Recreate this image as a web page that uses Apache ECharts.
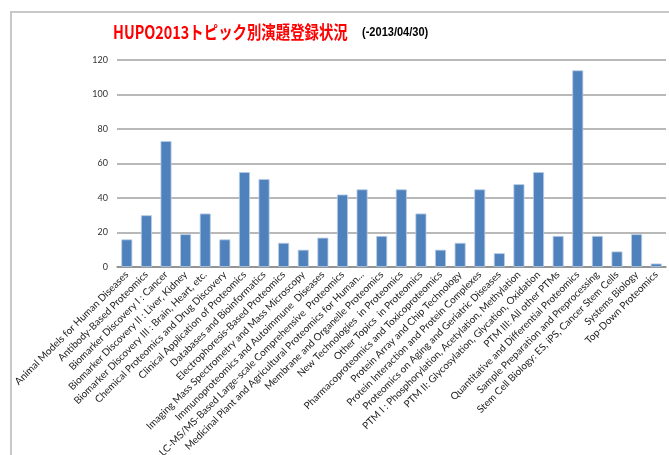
<!DOCTYPE html>
<html>
<head>
<meta charset="utf-8">
<script src="https://cdn.jsdelivr.net/npm/echarts@6/dist/echarts.min.js"></script>
<style>
  html, body { margin: 0; padding: 0; background: #fff; }
  #chart { width: 669px; height: 455px; }
</style>
</head>
<body>
<div id="chart"></div>
<script>
// カテゴリ（演題トピック）
var categories = [
  "Animal Models for Human Diseases",
  "Antibody-Based Proteomics",
  "Biomarker Discovery I : Cancer",
  "Biomarker Discovery II : Liver, Kidney",
  "Biomarker Discovery III : Brain, Heart, etc.",
  "Chemical Proteomics and Drug Discovery",
  "Clinical Application of Proteomics",
  "Databases and Bioinformatics",
  "Electrophoresis-Based Proteomics",
  "Imaging Mass Spectrometry and Mass Microscopy",
  "Immunoproteomics and Autoimmune  Diseases",
  "LC-MS/MS-Based Large-scale Comprehensive  Proteomics",
  "Medicinal Plant and Agricultural Proteomics for Human...",
  "Membrane and Organelle Proteomics",
  "New Technologies  in Proteomics",
  "Other Topics  in Proteomics",
  "Pharmacoproteomics and Toxicoproteomics",
  "Protein Array and Chip Technology",
  "Protein Interaction and Protein Complexes",
  "Proteomics on Aging and Geriatric Diseases",
  "PTM I : Phosphorylation, Acetylation, Methylation",
  "PTM II: Glycosylation, Glycation, Oxidation",
  "PTM III: All other PTMs",
  "Quantitative and Differential Proteomics",
  "Sample Preparation and Preprocessing",
  "Stem Cell Biology: ES, iPS, Cancer Stem Cells",
  "Systems Biology",
  "Top-Down Proteomics"
];
// 登録数
var counts = [16, 30, 73, 19, 31, 16, 55, 51, 14, 10, 17, 42, 45, 18, 45, 31, 10, 14, 45, 8, 48, 55, 18, 114, 18, 9, 19, 2];
// 縦軸
var yMin = 0, yMax = 120, yStep = 20;

var titleText = "HUPO2013トピック別演題登録状況";
var subText = "(-2013/04/30)";

var myChart = echarts.init(document.getElementById("chart"), null, { renderer: "canvas" });
var option = {
  backgroundColor: "#fff",
  animation: false,
  textStyle: { fontFamily: "Lato, 'Liberation Sans', sans-serif" },
  graphic: [
    {
      type: "rect",
      shape: { x: 11, y: 12, width: 700, height: 460 },
      style: { fill: null, stroke: "#c8c8c8", lineWidth: 2 },
      silent: true
    },
    {
      // タイトル（横幅を詰める）
      type: "text",
      x: 113, y: 23,
      scaleX: 0.8,
      style: {
        text: titleText,
        fill: "#ff0000",
        font: "bold 18px 'Noto Sans CJK JP', sans-serif"
      }
    },
    {
      type: "text",
      x: 362, y: 27,
      scaleX: 0.92,
      style: {
        text: subText,
        fill: "#000",
        font: "bold 12px 'Liberation Sans', sans-serif"
      }
    }
  ],
  // ラベルが下にはみ出しても描画領域を縮めない
  grid: { left: 117, right: 3, top: 60, bottom: 188, containLabel: false, outerBoundsMode: "none" },
  xAxis: {
    type: "category",
    data: categories,
    axisLine: { lineStyle: { color: "#888", width: 1.5 } },
    axisTick: { show: false },
    axisLabel: {
      rotate: 45,
      interval: 0,
      fontSize: 10,
      color: "#222",
      margin: 6
    }
  },
  yAxis: {
    type: "value",
    min: yMin, max: yMax, interval: yStep,
    axisLine: { show: false },
    axisTick: { show: false },
    axisLabel: { fontSize: 9, color: "#333", margin: 9 },
    splitLine: { lineStyle: { color: "#a0a0a0", width: 1.5 } }
  },
  series: [
    {
      type: "bar",
      data: counts,
      barWidth: "56%",
      itemStyle: { color: "#4f81bd", borderColor: "#b9cde5", borderWidth: 0.8 }
    }
  ]
};
myChart.setOption(option);
</script>
</body>
</html>
